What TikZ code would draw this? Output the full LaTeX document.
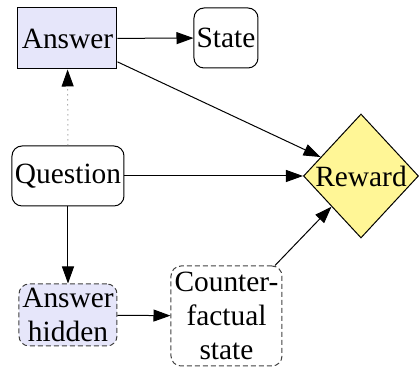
\documentclass[tikz,border=0pt]{standalone}
\usepackage{fontspec}
\setmainfont{Liberation Serif}
\newfontfamily\timesf{Liberation Serif}
\usetikzlibrary{shapes.geometric,arrows.meta}
\definecolor{lav}{RGB}{230,230,250}
\definecolor{rew}{RGB}{255,246,150}
\begin{document}
\begin{tikzpicture}[x=0.5pt,y=-0.5pt,
  every node/.style={font=\timesf\fontsize{14.7pt}{17pt}\selectfont, inner sep=0pt, align=center},
  box/.style={draw, line width=0.5pt},
  rbox/.style={box, rounded corners=5pt},
  hid/.style={rbox, dash pattern=on 2.5pt off 1.5pt, draw=black!75},
  arr/.style={-{Triangle[length=8.5pt,width=6pt,color=black]}, line width=0.5pt}]
\useasboundingbox (0,0) rectangle (420,368);
\node[box, fill=lav, minimum width=49.5pt, minimum height=30.5pt] (ans) at (67.5,38.5) {Answer};
\node[rbox, minimum width=32pt, minimum height=30pt] (st) at (226,38) {State};
\node[rbox, minimum width=56pt, minimum height=30pt] (q) at (68,176) {Question};
\node[diamond, draw, line width=0.5pt, fill=rew, aspect=1, minimum width=57.5pt, minimum height=62pt] (r) at (361,176) {Reward};
\node[hid, fill=lav, minimum width=49pt, minimum height=31pt] (ah) at (68,315) {Answer\\hidden};
\node[hid, minimum width=55.5pt, minimum height=50pt] (cf) at (226.5,316) {Counter-\\factual\\state};
\draw[arr] (ans) -- (st);
\draw[arr] (ans) -- (r);
\draw[arr] (q) -- (r);
\draw[arr, draw=gray, dotted] (q) -- (ans);
\draw[arr] (q) -- (ah);
\draw[arr] (ah) -- (cf);
\draw[arr] (cf) -- (r);
\end{tikzpicture}
\end{document}
